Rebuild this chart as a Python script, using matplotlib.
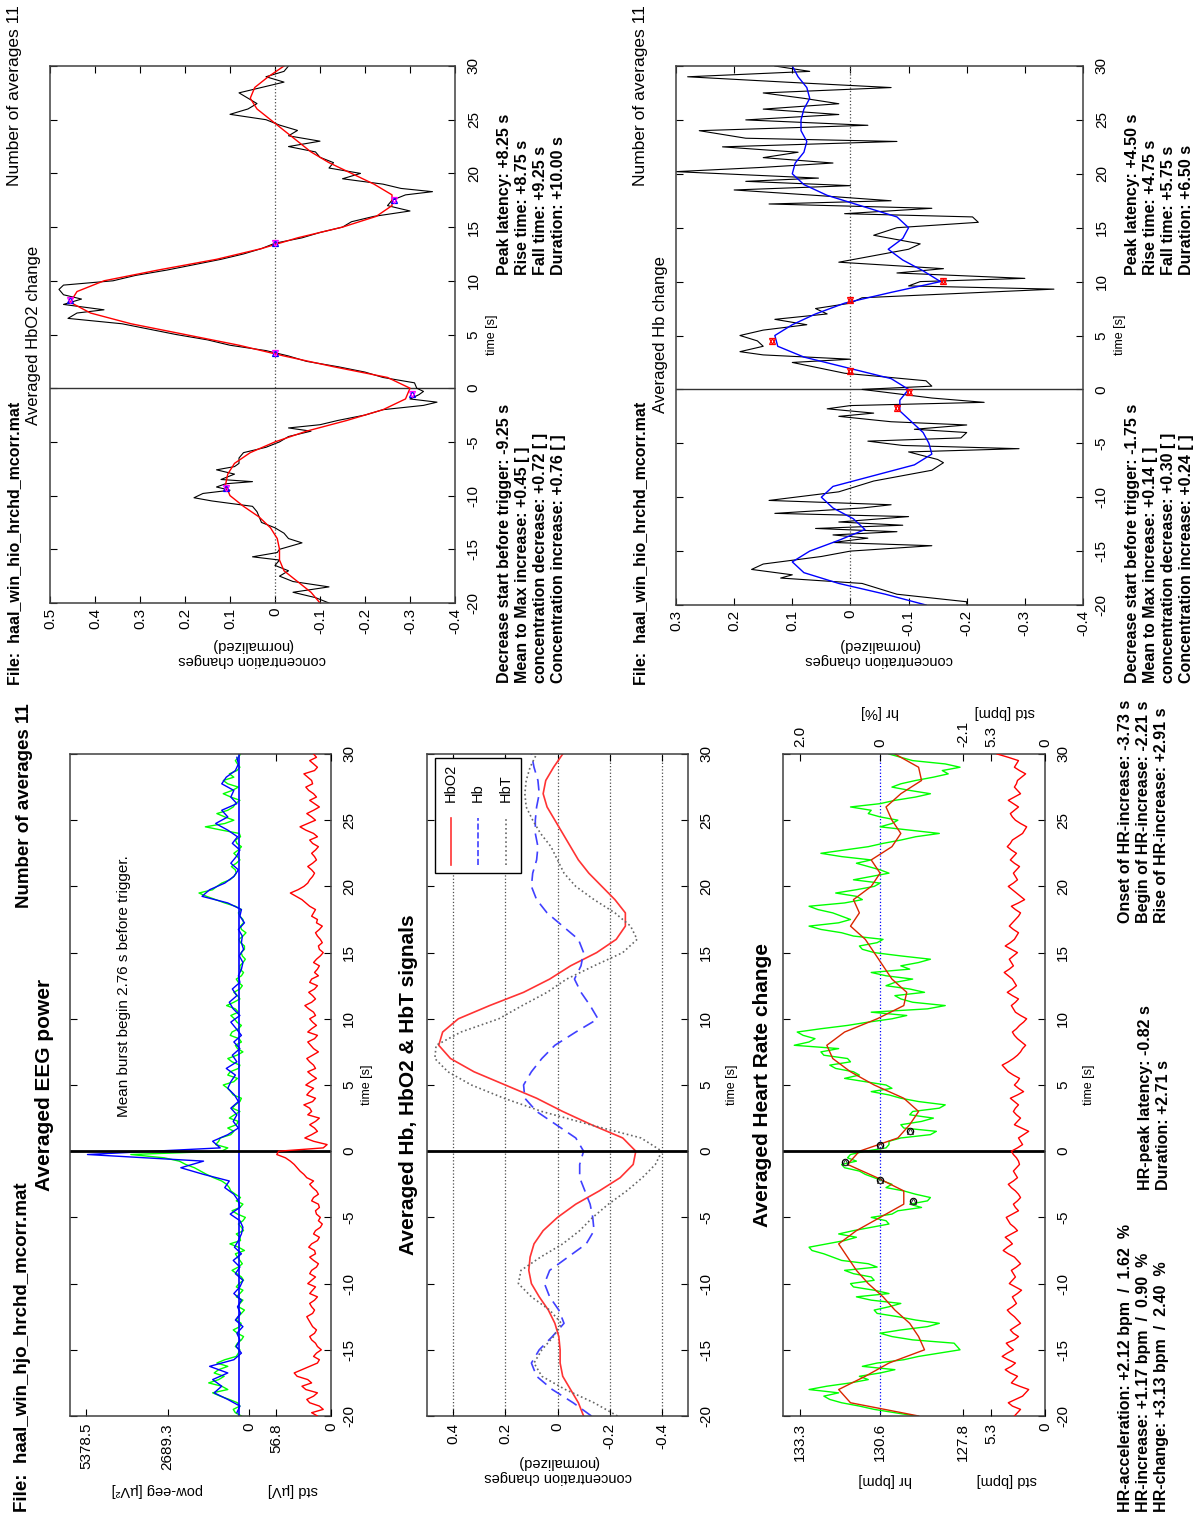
import numpy as np
import matplotlib
matplotlib.use("Agg")
import matplotlib.pyplot as plt
from matplotlib import font_manager
from matplotlib.patches import Rectangle

W, H = 1196, 1521

avail = {f.name for f in font_manager.fontManager.ttflist}
NARROW = "Liberation Sans Narrow" if "Liberation Sans Narrow" in avail else "Liberation Sans"
plt.rcParams["font.family"] = [NARROW, "DejaVu Sans"]
plt.rcParams["axes.unicode_minus"] = False

## time axis
time_ticks = [-20, -15, -10, -5, 0, 5, 10, 15, 20, 25, 30]
t_sec = np.arange(-20, 31)

## HbO2 change (normalized), smooth curve on 1 s grid
hbo2_smooth = [-0.10, -0.08, -0.05, -0.02, -0.01, -0.01, -0.005, 0.01, 0.035, 0.07,
               0.10, 0.11, 0.105, 0.09, 0.055, 0.0, -0.07, -0.16, -0.24, -0.29,
               -0.30, -0.25, -0.13, -0.02, 0.08, 0.20, 0.32, 0.41, 0.455, 0.44,
               0.38, 0.26, 0.13, 0.03, -0.05, -0.15, -0.225, -0.26, -0.26, -0.22,
               -0.17, -0.12, -0.08, -0.05, -0.02, 0.01, 0.04, 0.055, 0.045, 0.015,
               -0.02]
## Hb change (normalized), smooth curve on 1 s grid
hb_smooth = [-0.13, -0.06, 0.02, 0.08, 0.10, 0.07, 0.02, -0.025, -0.005, 0.03,
             0.05, 0.03, -0.04, -0.11, -0.14, -0.135, -0.125, -0.105, -0.085, -0.085,
             -0.10, -0.07, 0.005, 0.08, 0.125, 0.13, 0.10, 0.06, 0.01, -0.07,
             -0.155, -0.125, -0.09, -0.065, -0.09, -0.10, -0.08, -0.02, 0.04, 0.08,
             0.10, 0.095, 0.08, 0.075, 0.085, 0.085, 0.08, 0.07, 0.075, 0.09,
             0.10]

## raw averaged HbO2 (time, value)
hbo2_raw = [(-20, -0.12), (-19.5, -0.09), (-19, -0.04), (-18.5, -0.12), (-18, -0.04),
            (-17.5, -0.01), (-17, -0.03), (-16.5, 0.0), (-16, -0.01), (-15.7, 0.05),
            (-15.3, -0.005), (-15, -0.01), (-14.4, -0.06), (-14, -0.03), (-13.5, -0.02),
            (-13, 0.0), (-12.5, 0.03), (-12, 0.035), (-11.5, 0.04), (-11, 0.05),
            (-10.5, 0.14), (-10.2, 0.18), (-9.8, 0.16), (-9.5, 0.1), (-9.2, 0.13),
            (-8.9, 0.11), (-8.7, 0.05), (-8.5, 0.12), (-8, 0.09), (-7.6, 0.13),
            (-7.3, 0.09), (-7, 0.08), (-6.5, 0.08), (-6, 0.07), (-5.5, 0.02),
            (-5, -0.01), (-4.5, -0.03), (-4, -0.08), (-3.7, -0.03), (-3.4, -0.1),
            (-3, -0.14), (-2.5, -0.2), (-2, -0.24), (-1.6, -0.33), (-1.3, -0.36),
            (-1, -0.3), (-0.6, -0.32), (-0.3, -0.33), (0, -0.315), (0.5, -0.31),
            (1, -0.24), (1.5, -0.2), (2, -0.14), (2.5, -0.07), (3, -0.03),
            (3.5, 0.02), (4, 0.1), (4.5, 0.15), (5, 0.22), (5.5, 0.28),
            (6, 0.34), (6.5, 0.46), (7, 0.44), (7.3, 0.38), (7.8, 0.47),
            (8.3, 0.43), (8.7, 0.47), (9.2, 0.48), (9.6, 0.47), (10, 0.36),
            (10.5, 0.31), (11, 0.24), (11.5, 0.18), (12, 0.12), (12.5, 0.07),
            (13, 0.03), (13.5, 0.0), (14, -0.06), (14.5, -0.1), (15, -0.15),
            (15.5, -0.17), (16, -0.22), (16.5, -0.3), (17, -0.25), (17.5, -0.26),
            (18, -0.29), (18.3, -0.35), (18.6, -0.28), (19, -0.24), (19.5, -0.15),
            (20, -0.19), (20.5, -0.12), (21, -0.13), (21.5, -0.1), (22, -0.09),
            (22.5, -0.03), (23, -0.1), (23.5, -0.03), (24, -0.05), (24.5, -0.01),
            (25, 0.02), (25.5, 0.1), (26, 0.06), (26.5, 0.04), (27, 0.06),
            (27.5, 0.08), (28, 0.03), (28.5, -0.02), (29, 0.02), (29.5, -0.02),
            (30, -0.03)]

## raw averaged Hb (time, value)
hb_raw = [(-20, -0.2), (-19.7, -0.2), (-19, -0.08), (-18, -0.02), (-17.5, 0.12),
          (-17.2, 0.1), (-16.7, 0.17), (-16.2, 0.15), (-15.5, 0.05), (-15, 0.0),
          (-14.5, -0.14), (-14.2, 0.03), (-13.8, -0.03), (-13.5, 0.03), (-13.2, -0.08),
          (-12.9, 0.06), (-12.6, -0.09), (-12.3, 0.02), (-11.8, -0.1), (-11.5, 0.13),
          (-11, -0.02), (-10.7, -0.07), (-10.3, 0.14), (-9.5, 0.02), (-8.5, -0.04),
          (-7.5, -0.14), (-6.8, -0.16), (-6.5, -0.15), (-5.8, -0.1), (-5.5, -0.29),
          (-5.2, -0.09), (-4.8, -0.03), (-4.5, -0.19), (-4, -0.2), (-3.7, -0.11),
          (-3.3, -0.2), (-3, -0.07), (-2.5, 0.02), (-2.2, -0.04), (-1.8, 0.04),
          (-1.5, 0.0), (-1.2, -0.23), (-0.8, -0.14), (0, -0.02), (0.3, -0.14),
          (0.8, -0.13), (1.5, 0.01), (2.5, 0.1), (2.8, 0.0), (3.2, 0.15),
          (3.5, 0.19), (4, 0.15), (4.5, 0.16), (5, 0.19), (5.5, 0.15),
          (6, 0.075), (6.5, 0.13), (7, 0.04), (7.5, 0.06), (8, 0.0),
          (8.5, -0.02), (9.3, -0.35), (9.6, -0.1), (10, -0.12), (10.3, -0.3),
          (10.8, -0.08), (11.2, -0.16), (11.8, 0.02), (12.3, -0.03), (13, -0.1),
          (13.5, -0.12), (14.3, -0.04), (15, -0.08), (15.5, -0.22), (16, -0.21),
          (16.3, 0.01), (16.8, -0.14), (17.2, 0.14), (17.5, -0.07), (18, 0.06),
          (18.5, 0.2), (18.9, 0.0), (19.3, 0.18), (19.6, 0.055), (20.2, 0.3),
          (20.6, 0.15), (21, 0.03), (21.5, 0.15), (22, 0.09), (22.5, 0.22),
          (23, -0.08), (23.3, 0.18), (24, 0.26), (24.5, -0.03), (25, 0.18),
          (25.5, 0.02), (26, 0.15), (26.5, 0.02), (27, 0.08), (27.5, 0.15),
          (28, -0.07), (28.5, 0.11), (29, 0.28), (29.5, 0.07), (30, 0.13)]

## detected events
hbo2_key_t = [-9.25, -0.5, 3.25, 8.25, 13.5, 17.5]
hbo2_key_v = [0.11, -0.305, 0.0, 0.455, 0.0, -0.265]
hb_key_t = [-1.75, -0.2, 1.75, 4.5, 8.25, 10.1]
hb_key_v = [-0.08, -0.1, 0.0, 0.135, 0.0, -0.16]

## EEG power [uV^2]; "_mid" lists are the samples between the half-second ones
eeg_green = [250, 520, 380, 950, 700, 1330, 820, 1000, 1060, 420,
             300, 380, 180, 520, 260, 350, 150, 300, 420, 200,
             330, 250, 560, 220, 380, 150, 630, 300, 180, 350,
             120, 560, 200, 280, 600, 740, 1170, 1600, 2090, 2800,
             900, 1100, 950, 500, 420, 650, 300, 450, 250, 600,
             850, 380, 620, 300, 700, 200, 450, 330, 560, 250,
             480, 350, 740, 300, 500, 220, 420, 180, 300, 120,
             260, 150, 330, 100, 280, 200, 350, 450, 1100, 1650,
             1060, 630, 420, 580, 300, 500, 250, 450, 320, 1440,
             500, 1060, 520, 300, 850, 350, 850, 650, 300, 450,
             280]
eeg_green_mid = [450, 300, 650, 1200, 900, 1000, 1150, 700, 800, 350,
                 450, 250, 380, 300, 420, 250, 350, 200, 300, 420,
                 180, 400, 350, 300, 450, 350, 280, 420, 250, 200,
                 380, 300, 420, 450, 650, 900, 1400, 1800, 2300, 3900,
                 700, 1000, 600, 700, 350, 480, 550, 300, 520, 700,
                 500, 700, 350, 560, 400, 380, 250, 620, 350, 400,
                 600, 450, 500, 380, 300, 350, 250, 300, 200, 220,
                 150, 280, 200, 250, 180, 300, 250, 800, 1400, 1200,
                 900, 500, 450, 420, 380, 350, 400, 280, 900, 800,
                 800, 700, 450, 600, 550, 700, 500, 400, 380, 350]
eeg_blue = [400, 300, 700, 1150, 900, 1200, 700, 1300, 500, 250,
            420, 300, 400, 200, 450, 280, 380, 250, 500, 300,
            200, 450, 300, 520, 250, 480, 350, 250, 200, 300,
            620, 300, 350, 500, 800, 650, 1500, 2250, 1500, 5330,
            950, 1200, 700, 350, 520, 400, 600, 350, 480, 700,
            600, 450, 750, 400, 550, 300, 500, 250, 420, 600,
            300, 520, 650, 400, 550, 300, 350, 250, 200, 320,
            180, 250, 220, 350, 150, 300, 250, 700, 1550, 1300,
            800, 500, 350, 600, 420, 300, 550, 380, 700, 1100,
            700, 900, 400, 600, 500, 900, 750, 450, 350, 400]
eeg_mean = 330
eeg_std = [14, 8, 22, 18, 26, 20, 35, 30, 14, 18,
           10, 16, 22, 15, 21, 25, 17, 22, 14, 19,
           24, 16, 20, 13, 22, 17, 20, 12, 16, 9,
           11, 16, 13, 18, 15, 22, 25, 32, 38, 47,
           54, 4, 27, 14, 22, 12, 20, 28, 16, 22,
           26, 15, 24, 18, 25, 13, 21, 17, 24, 15,
           22, 18, 27, 16, 23, 14, 20, 17, 12, 15,
           8, 13, 11, 16, 9, 14, 18, 22, 30, 42,
           28, 22, 17, 24, 15, 20, 13, 22, 18, 32,
           16, 25, 12, 22, 18, 26, 20, 28, 14, 22,
           18]
eeg_std_mid = [20, 12, 25, 14, 30, 24, 38, 22, 12, 15,
               14, 20, 17, 19, 23, 19, 20, 17, 22, 16,
               20, 22, 15, 18, 16, 23, 14, 18, 11, 13,
               15, 12, 20, 13, 19, 18, 28, 35, 42, 56,
               8, 18, 20, 17, 16, 24, 22, 19, 25, 18,
               21, 20, 16, 22, 19, 18, 24, 14, 20, 19,
               16, 23, 20, 19, 17, 22, 13, 14, 18, 11,
               12, 9, 14, 12, 15, 20, 16, 26, 36, 34,
               24, 19, 20, 19, 17, 16, 19, 14, 26, 24,
               20, 18, 17, 15, 23, 19, 24, 17, 18, 15]

## heart rate [bpm]
hr_raw = [129.4, 130.8, 131.9, 132.5, 133.0, 131.6, 131.3, 130.1, 130.7, 129.3,
          127.9, 128.1, 130.2, 129.9, 128.6, 130.0, 130.8, 129.9, 131.4, 130.8,
          131.6, 130.9, 131.8, 131.0, 132.2, 132.9, 132.4, 131.4, 131.5, 130.3,
          130.9, 130.0, 129.6, 128.9, 129.8, 130.2, 130.8, 131.3, 131.9, 131.7,
          131.1, 130.3, 129.9, 128.7, 129.9, 128.8, 129.5, 128.4, 129.9, 130.9,
          130.4, 131.8, 131.5, 132.3, 131.7, 132.6, 133.5, 132.8, 133.4, 131.7,
          130.2, 130.9, 128.4, 129.9, 129.1, 130.4, 129.5, 130.9, 129.9, 128.9,
          130.8, 131.3, 130.5, 131.9, 133.0, 131.6, 132.2, 133.0, 131.2, 132.1,
          130.8, 131.5, 130.3, 131.0, 130.9, 132.6, 131.0, 129.9, 128.6, 130.6,
          130.0, 131.0, 131.6, 130.1, 128.9, 130.2, 129.4, 128.3, 127.9, 129.5,
          130.3]
hr_raw_mid = [130.1, 131.3, 132.3, 132.0, 132.4, 131.0, 130.6, 131.2, 129.8, 128.6,
              128.0, 129.5, 130.6, 129.0, 129.4, 130.7, 130.3, 130.9, 130.3, 131.5,
              130.8, 131.5, 130.7, 131.9, 132.5, 133.0, 131.8, 132.0, 130.9, 130.4,
              130.2, 129.2, 129.0, 129.4, 130.4, 130.5, 131.1, 131.8, 131.4, 131.6,
              130.4, 130.3, 128.9, 129.8, 129.2, 129.6, 128.6, 129.3, 130.3, 130.2,
              131.1, 131.3, 132.1, 131.6, 132.5, 132.0, 133.0, 133.2, 132.6, 131.0,
              129.7, 129.0, 129.5, 130.1, 129.6, 130.1, 130.4, 129.6, 129.3, 129.9,
              131.2, 130.7, 131.5, 132.6, 132.0, 131.9, 132.7, 131.8, 131.4, 131.4,
              130.6, 130.9, 130.6, 131.4, 131.9, 131.8, 130.5, 129.4, 129.6, 130.2,
              130.6, 130.9, 130.6, 129.4, 129.6, 129.9, 128.8, 128.5, 128.4, 129.9]
hr_smooth = [129.3, 131.6, 132.0, 131.1, 130.3, 129.1, 129.3, 129.6, 130.1, 130.5,
             131.0, 131.4, 131.7, 132.0, 131.4, 130.6, 129.8, 129.8, 130.7, 131.7,
             131.3, 130.0, 129.6, 129.3, 129.8, 130.8, 131.6, 132.2, 132.4, 131.8,
             130.7, 129.8, 129.7, 130.2, 130.5, 130.8, 131.1, 131.6, 131.3, 131.5,
             130.9, 130.6, 130.9, 130.2, 129.9, 130.2, 130.4, 129.9, 129.2, 129.3,
             130.1]
hr_std = [3.0, 2.4, 3.6, 2.2, 1.6, 3.3, 2.7, 3.9, 2.9, 4.2,
          3.1, 3.8, 2.6, 3.4, 2.4, 3.0, 3.7, 2.8, 3.2, 2.3,
          3.5, 2.9, 3.3, 2.4, 3.0, 4.1, 3.2, 3.9, 2.7, 3.4,
          3.8, 2.6, 3.1, 2.4, 2.9, 3.6, 2.7, 3.1, 2.5, 2.8,
          3.3, 2.2, 2.6, 1.6, 3.0, 2.4, 3.1, 2.6, 3.4, 2.1,
          3.0, 2.5, 3.6, 4.2, 3.1, 2.4, 1.9, 2.7, 3.2, 2.5,
          1.8, 2.9, 3.3, 2.6, 3.7, 2.8, 3.2, 4.0, 3.1, 3.5,
          2.7, 3.9, 3.0, 2.6, 3.5, 2.9, 2.4, 3.3, 2.0, 2.8,
          3.6, 2.7, 3.1, 2.5, 3.4, 2.8, 3.7, 3.2, 2.2, 1.8,
          2.9, 3.4, 2.6, 3.6, 2.4, 3.0, 2.7, 1.9, 3.0, 2.6,
          4.7]
hr_std_mid = [2.7, 3.2, 2.9, 1.9, 2.5, 3.0, 3.4, 3.3, 3.6, 3.7,
              3.5, 3.0, 3.1, 2.9, 2.7, 3.4, 3.2, 3.0, 2.7, 2.9,
              3.2, 3.1, 2.8, 2.7, 3.6, 3.7, 3.5, 3.3, 3.0, 3.6,
              3.2, 2.9, 2.7, 2.6, 3.3, 3.1, 2.9, 2.8, 2.6, 3.1,
              2.7, 2.4, 2.1, 2.3, 2.7, 2.8, 2.9, 3.0, 2.7, 2.6,
              2.7, 3.1, 3.9, 3.6, 2.7, 2.2, 2.3, 3.0, 2.8, 2.1,
              2.4, 3.1, 2.9, 3.2, 3.2, 3.0, 3.6, 3.5, 3.3, 3.1,
              3.3, 3.4, 2.8, 3.1, 3.2, 2.6, 2.9, 2.6, 2.4, 3.2,
              3.1, 2.9, 2.8, 3.0, 3.1, 3.3, 3.4, 2.7, 2.0, 2.4,
              3.2, 3.0, 3.1, 3.0, 2.7, 2.8, 2.3, 2.5, 2.8, 3.6]
hr_base = 130.6
hr_key_t = [-3.73, -2.21, -0.82, 0.5, 1.5]
hr_key_v = [129.5, 130.6, 131.8, 130.6, 129.6]

## tick labels
hbo2_ticks = [0.5, 0.4, 0.3, 0.2, 0.1, 0, -0.1, -0.2, -0.3, -0.4]
hb_ticks = [0.3, 0.2, 0.1, 0, -0.1, -0.2, -0.3, -0.4]
sig_ticks = [0.4, 0.2, 0, -0.2, -0.4]
eeg_ticks, eeg_labels = [5378.5, 2689.3, 0], ["5378.5", "2689.3", "0"]
eeg_std_ticks, eeg_std_labels = [56.8, 0], ["56.8", "0"]
hr_ticks, hr_labels = [133.3, 130.6, 127.8], ["133.3", "130.6", "127.8"]
hr_pct_labels = ["2.0", "0", "-2.1"]
hr_std_ticks, hr_std_labels = [5.3, 0], ["5.3", "0"]

top_left_stats = ["Decrease start before trigger: -9.25 s", "Mean to Max increase: +0.45 [ ]",
                  "concentration decrease: +0.72 [ ]", "Concentration increase: +0.76 [ ]"]
top_left_times = ["Peak latency: +8.25 s", "Rise time: +8.75 s", "Fall time: +9.25 s",
                  "Duration: +10.00 s"]
top_right_stats = ["Decrease start before trigger: -1.75 s", "Mean to Max increase: +0.14 [ ]",
                   "concentration decrease: +0.30 [ ]", "Concentration increase: +0.24 [ ]"]
top_right_times = ["Peak latency: +4.50 s", "Rise time: +4.75 s", "Fall time: +5.75 s",
                   "Duration: +6.50 s"]
hr_stats_a = ["HR-acceleration: +2.12 bpm  /  1.62  %", "HR-increase: +1.17 bpm  /  0.90  %",
              "HR-change: +3.13 bpm  /  2.40  %"]
hr_stats_b = ["HR-peak latency: -0.82 s", "Duration: +2.71 s"]
hr_stats_c = ["Onset of HR-increase: -3.73 s", "Begin of HR-increase: -2.21 s",
              "Rise of HR-increase: +2.91 s"]


def fmt(v):
    return "0" if v == 0 else ("%g" % v)


def merged(main, mid):
    # main samples sit on the half-second grid, mid samples halfway between them
    t = np.concatenate([np.linspace(-20, 30, len(main)), -19.75 + 0.5 * np.arange(len(mid))])
    v = np.concatenate([main, mid])
    order = np.argsort(t)
    return t[order], v[order]


fig = plt.figure(figsize=(W / 100, H / 100), dpi=100)
fig.patch.set_facecolor("white")


def px_rect(x0, y0, x1, y1):
    return [x0 / W, 1 - y1 / H, (x1 - x0) / W, (y1 - y0) / H]


def ftext(x, y, s, **kw):
    return fig.text(x / W, 1 - y / H, s, **kw)


TICK_FS = 11


def time_axes(box, vlim, vticks, vlabels, tpad=8.0, vpad=3.5, fs=TICK_FS):
    # time runs upward, the measured value runs right-to-left
    ax = fig.add_axes(px_rect(*box))
    ax.set_xlim(vlim)
    ax.set_ylim(-20, 30)
    ax.set_yticks(time_ticks)
    ax.set_yticklabels([str(t) for t in time_ticks])
    ax.set_xticks(vticks)
    ax.set_xticklabels(vlabels)
    ax.tick_params(axis="y", left=True, right=True, labelleft=False, labelright=True,
                   direction="in", length=5, pad=tpad, labelrotation=90, labelsize=fs)
    ax.tick_params(axis="x", top=True, bottom=True, direction="in", length=5,
                   pad=vpad, labelrotation=90, labelsize=fs)
    for lab in ax.get_yticklabels():
        lab.set_va("center")
    for sp in ax.spines.values():
        sp.set_linewidth(1.1)
        sp.set_color("0.25")
    return ax


def overlay(ax, vlim, vticks, vlabels, labeltop=False, vpad=3.5, fs=TICK_FS):
    ov = ax.twiny()
    ov.set_xlim(vlim)
    ov.set_xticks(vticks)
    ov.set_xticklabels(vlabels)
    ov.tick_params(axis="x", bottom=True, top=True, labelbottom=True, labeltop=labeltop,
                   direction="in", length=5, pad=vpad, labelrotation=90, labelsize=fs)
    for sp in ov.spines.values():
        sp.set_visible(False)
    return ov


def block(x, y, lines, size, weight="bold", spacing=1.25):
    ftext(x, y, "\n".join(lines), rotation=90, ha="left", va="bottom",
          fontsize=size, fontweight=weight, linespacing=spacing, multialignment="left")


raw_o = np.array(hbo2_raw)
raw_b = np.array(hb_raw)

# ---------------- upper pages: single-signal analysis ----------------
for x_off, title, raw, smooth, line_col, key_t, key_v, key_col, vlim, vticks, stats, times, box in [
    (0, "Averaged HbO2 change", raw_o, hbo2_smooth, "red", hbo2_key_t, hbo2_key_v, "blue",
     (0.5, -0.4), hbo2_ticks, top_left_stats, top_left_times, (50, 66, 455, 603)),
    (626, "Averaged Hb change", raw_b, hb_smooth, "blue", hb_key_t, hb_key_v, "red",
     (0.3, -0.4), hb_ticks, top_right_stats, top_right_times, (676, 66, 1083, 605)),
]:
    ax = time_axes(box, vlim, vticks, [fmt(v) for v in vticks], tpad=8.5)
    ax.axvline(0, color="0.3", ls=":", lw=0.9)
    ax.axhline(0, color="0.2", lw=1.0)
    ax.plot(raw[:, 1], raw[:, 0], color="k", lw=0.8)
    ax.plot(smooth, t_sec, color=line_col, lw=1.0)
    ax.plot(key_v, key_t, ls="none", marker="^", ms=5, mfc="none", mec=key_col, mew=0.9)
    ax.plot(key_v, key_t, ls="none", marker="v", ms=5, mfc="none",
            mec="magenta" if key_col == "blue" else key_col, mew=0.9)

    xc = (box[0] + box[2]) / 2
    ftext(xc, 638, "concentration changes\n(normalized)", rotation=180, ha="center", va="top",
          fontsize=10.5, linespacing=1.1)
    ftext(box[2] + 37, 335, "time [s]", rotation=90, ha="center", va="center", fontsize=9)
    ftext(x_off + 34, 335, title, rotation=90, ha="center", va="center", fontsize=12)
    ftext(x_off + 15, 5, "Number of averages 11", rotation=90, ha="center", va="top", fontsize=12.5)
    ftext(x_off + 15, 685, "File:  haal_win_hio_hrchd_mcorr.mat", rotation=90, ha="center",
          va="bottom", fontsize=11.5, fontweight="bold")
    block(box[2] + 42, 683, stats, 11.5)
    block(box[2] + 42, 275, times, 11.5)

# ---------------- lower page: EEG, NIRS and heart rate ----------------
ftext(25, 703, "Number of averages 11", rotation=90, ha="center", va="top", fontsize=13.5,
      fontweight="bold")
ftext(23, 1512, "File:  haal_win_hjo_hrchd_mcorr.mat", rotation=90, ha="center", va="bottom",
      fontsize=13.5, fontweight="bold")

# EEG power with its standard deviation underneath
t_green, v_green = merged(eeg_green, eeg_green_mid)
t_blue = -19.75 + 0.5 * np.arange(len(eeg_blue))
t_std, v_std = merged(eeg_std, eeg_std_mid)

axE = time_axes((70, 754, 331, 1416), (5907, -2706), eeg_ticks, eeg_labels, vpad=5)
axE.plot(v_green, t_green, color=(0, 1, 0), lw=1.0)
axE.plot(eeg_blue, t_blue, color=(0, 0, 1), lw=1.0)
axE.axvline(eeg_mean, color="blue", lw=1.2)
axE.axhline(0, color="k", lw=2)
axE.text(4125, 2.6, "Mean burst begin 2.76 s before trigger.", rotation=90, ha="center",
         va="bottom", fontsize=11)
axES = overlay(axE, (269.5, 0), eeg_std_ticks, eeg_std_labels, vpad=5)
axES.plot(v_std, t_std, color="red", lw=1.0)
ftext(45, 1085, "Averaged EEG power", rotation=90, ha="center", va="center", fontsize=15,
      fontweight="bold")
ftext(157, 1490, "pow-eeg [µV²]", rotation=180, ha="center", va="center", fontsize=10.5)
ftext(293, 1490, "std [µV]", rotation=180, ha="center", va="center", fontsize=10.5)
ftext(367, 1085, "time [s]", rotation=90, ha="center", va="center", fontsize=9)

# HbO2, Hb and their sum
hbt = np.array(hbo2_smooth) + np.array(hb_smooth)
axB = time_axes((427, 754, 688, 1416), (0.5, -0.5), sig_ticks, [fmt(v) for v in sig_ticks], vpad=5)
axB.grid(axis="x", ls=":", color="0.3", lw=0.9)
axB.plot(hbo2_smooth, t_sec, color=(1, 0.2, 0.2), lw=1.2)
axB.plot(hb_smooth, t_sec, color=(0.25, 0.25, 1), lw=1.2, dashes=(7, 4))
axB.plot(hbt, t_sec, color="0.4", lw=1.2, ls=":")
axB.axhline(0, color="k", lw=2)
axB.add_patch(Rectangle((0.031, 0.82), 0.33, 0.174, transform=axB.transAxes, fc="white",
                        ec="k", lw=1.0, zorder=5))
for xf, name, col, style in [(0.092, "HbO2", (1, 0.2, 0.2), "-"),
                             (0.195, "Hb", (0.25, 0.25, 1), "--"),
                             (0.303, "HbT", "0.4", ":")]:
    axB.plot([xf, xf], [0.832, 0.903], transform=axB.transAxes, color=col, ls=style, lw=1.2,
             zorder=6)
    axB.text(xf, 0.927, name, transform=axB.transAxes, rotation=90, ha="center", va="bottom",
             fontsize=10.5, zorder=6)
ftext(408, 1085, "Averaged Hb, HbO2 & HbT signals", rotation=90, ha="center", va="center",
      fontsize=15, fontweight="bold")
ftext(558, 1455, "concentration changes\n(normalized)", rotation=180, ha="center", va="top",
      fontsize=10.5, linespacing=1.1)
ftext(732, 1085, "time [s]", rotation=90, ha="center", va="center", fontsize=9)

# heart rate with percent scale on top and std underneath
t_hr, v_hr = merged(hr_raw, hr_raw_mid)
t_hr_std, v_hr_std = merged(hr_std, hr_std_mid)
hr_lim = (133.88, 125.03)
axH = time_axes((783, 754, 1045, 1416), hr_lim, hr_ticks, hr_labels, vpad=5)
axH.tick_params(axis="x", top=False)
axH.axvline(hr_base, color="blue", ls=":", lw=0.9)
axH.plot(v_hr, t_hr, color=(0, 1, 0), lw=1.0)
axH.plot(hr_smooth, t_sec, color=(0.85, 0.15, 0.0), lw=1.0)
axH.plot(hr_key_v, hr_key_t, ls="none", marker="o", ms=4.5, mfc="none", mec="k", mew=0.9)
axH.plot(hr_key_v, hr_key_t, ls="none", marker="^", ms=4.5, mfc="none", mec="0.2", mew=0.7)
axH.axhline(0, color="k", lw=2)
axP = axH.twiny()
axP.set_xlim(hr_lim)
axP.set_xticks(hr_ticks)
axP.set_xticklabels(hr_pct_labels)
axP.tick_params(axis="x", direction="in", length=5, pad=5, labelrotation=90, labelsize=TICK_FS)
for sp in axP.spines.values():
    sp.set_visible(False)
axHS = overlay(axH, (25.7, 0), hr_std_ticks, hr_std_labels, labeltop=True, vpad=5)
axHS.plot(v_hr_std, t_hr_std, color="red", lw=1.0)
ftext(763, 1085, "Averaged Heart Rate change", rotation=90, ha="center", va="center",
      fontsize=15, fontweight="bold")
ftext(885, 1480, "hr [bpm]", rotation=180, ha="center", va="center", fontsize=10.5)
ftext(1007, 1480, "std [bpm]", rotation=180, ha="center", va="center", fontsize=10.5)
ftext(880, 712, "hr [%]", rotation=180, ha="center", va="center", fontsize=10.5)
ftext(1005, 712, "std [bpm]", rotation=180, ha="center", va="center", fontsize=10.5)
ftext(1089, 1085, "time [s]", rotation=90, ha="center", va="center", fontsize=9)

block(1118, 1512, hr_stats_a, 11.5)
block(1138, 1190, hr_stats_b, 11.5)
block(1118, 923, hr_stats_c, 11.5)

fig.savefig("out.png", dpi=100)
